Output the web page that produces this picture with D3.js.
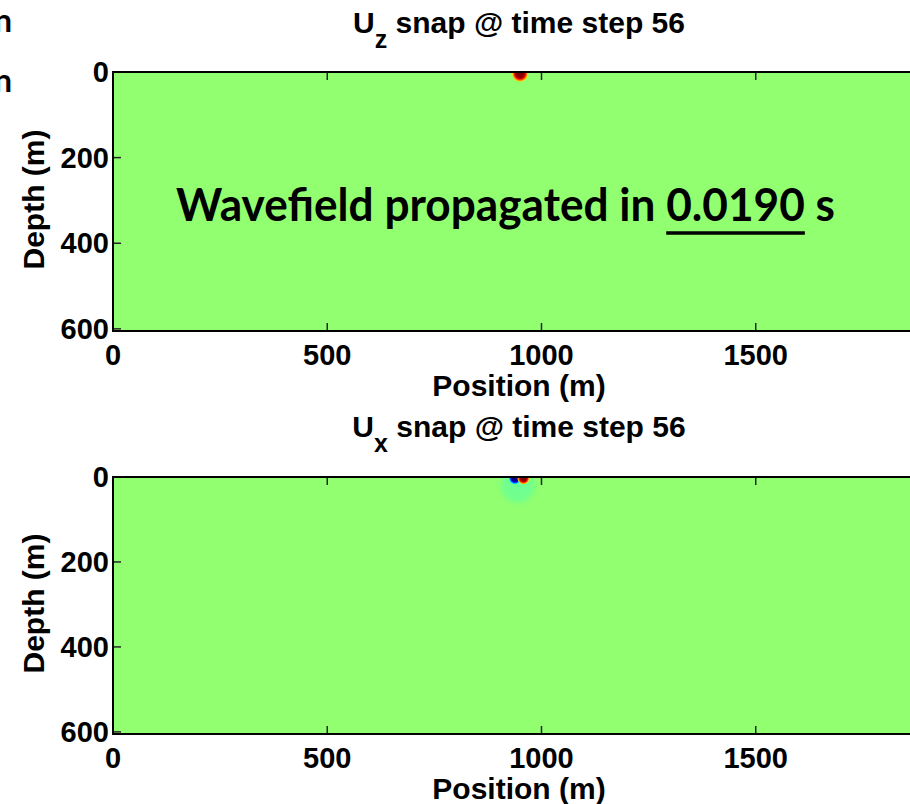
<!DOCTYPE html>
<html>
<head>
<meta charset="utf-8">
<script src="https://cdn.jsdelivr.net/npm/d3@7"></script>
<style>
	body { margin: 0; background: #ffffff; }
	svg { display: block; }
	.snap-label { font-family: 'Liberation Sans', Arial, sans-serif; font-weight: bold; fill: #000; }
	.snap-note { font-family: Lato, 'Open Sans', sans-serif; font-weight: bold; fill: #000; white-space: pre; }
</style>
</head>
<body>
<svg id="chart" width="910" height="804"></svg>
<script>

// model extent (m)
var aPositionDomain = [0, 1895];
var aDepthDomain = [0, 605];
var aPositionTicks = [0, 500, 1000, 1500];
var aDepthTicks = [0, 200, 400, 600];

var aPanelComponents = ['z', 'x'];
var nTimeStep = 56;
var strPropTime = '0.0190';

// wavefield blobs per panel: position (m), depth (m), radius (m), amplitude (-1..1)
var aUzBlobs = [
	{ pos: 950, depth: 4, radius: 20, amp: 1.0 }
];
var aUxBlobs = [
	{ pos: 945, depth: 20, radius: 55, amp: -0.04 },
	{ pos: 938, depth: 3, radius: 15, amp: -1.0 },
	{ pos: 958, depth: 3, radius: 15, amp: 1.0 }
];

const strBgColor = '#91ff6f';

function Jet(t)
{
	function c(v) { return Math.max(0, Math.min(1, v)); }
	var r = c(1.5 - Math.abs(4 * t - 3));
	var g = c(1.5 - Math.abs(4 * t - 2));
	var b = c(1.5 - Math.abs(4 * t - 1));
	return d3.rgb(r * 255, g * 255, b * 255).formatHex();
}

var sSvg = d3.select('#chart');
var sDefs = sSvg.append('defs');

var aPanels = [
	{ comp: aPanelComponents[0], top: 72, bottom: 331, titleY: 33, blobs: aUzBlobs },
	{ comp: aPanelComponents[1], top: 477, bottom: 734, titleY: 437, blobs: aUxBlobs }
];

var xScale = d3.scaleLinear().domain(aPositionDomain).range([113, 925]);

aPanels.forEach(function(panel, iPanel)
{
	var yScale = d3.scaleLinear().domain(aDepthDomain).range([panel.top, panel.bottom]);
	var fPxPerM = (panel.bottom - panel.top) / (aDepthDomain[1] - aDepthDomain[0]);
	var x0 = xScale.range()[0], x1 = xScale.range()[1];

	var strClip = 'clip-' + iPanel;
	sDefs.append('clipPath').attr('id', strClip)
		.append('rect')
			.attr('x', x0).attr('y', panel.top)
			.attr('width', x1 - x0).attr('height', panel.bottom - panel.top);

	var sPanel = sSvg.append('g');

	sPanel.append('rect')
		.attr('x', x0).attr('y', panel.top)
		.attr('width', x1 - x0).attr('height', panel.bottom - panel.top)
		.attr('fill', strBgColor);

	// blobs, jet coloured radial gradients
	var sBlobs = sPanel.append('g').attr('clip-path', 'url(#' + strClip + ')');
	panel.blobs.forEach(function(blob, iBlob)
	{
		var strGrad = 'grad-' + iPanel + '-' + iBlob;
		var tPeak = (blob.amp + 1) / 2;
		var tBg = 0.5175;
		var grad = sDefs.append('radialGradient').attr('id', strGrad);
		var aStops = Math.abs(blob.amp) > 0.5
			? [[0, 1], [0.45, 0.97], [0.6, 0.8], [0.75, 0.55], [0.88, 0.3], [1, 0]]
			: [[0, 1], [0.6, 0.8], [1, 0]];
		aStops.forEach(function(s)
		{
			var t = tBg + (tPeak - tBg) * s[1];
			grad.append('stop').attr('offset', s[0]).attr('stop-color', Jet(t))
				.attr('stop-opacity', s[0] == 1 ? 0 : 1);
		});
		sBlobs.append('circle')
			.attr('cx', xScale(blob.pos))
			.attr('cy', yScale(blob.depth))
			.attr('r', blob.radius * fPxPerM)
			.attr('fill', 'url(#' + strGrad + ')');
	});

	// inward ticks, matlab style
	var sTicks = sPanel.append('g').attr('stroke', '#262626').attr('stroke-width', 1.5);
	aPositionTicks.forEach(function(v)
	{
		var x = xScale(v);
		sTicks.append('line').attr('x1', x).attr('x2', x).attr('y1', panel.top).attr('y2', panel.top + 8);
		sTicks.append('line').attr('x1', x).attr('x2', x).attr('y1', panel.bottom).attr('y2', panel.bottom - 8);
	});
	aDepthTicks.forEach(function(v)
	{
		var y = yScale(v);
		sTicks.append('line').attr('x1', x0).attr('x2', x0 + 8).attr('y1', y).attr('y2', y);
		sTicks.append('line').attr('x1', x1).attr('x2', x1 - 8).attr('y1', y).attr('y2', y);
	});

	sPanel.append('rect')
		.attr('x', x0).attr('y', panel.top)
		.attr('width', x1 - x0).attr('height', panel.bottom - panel.top)
		.attr('fill', 'none').attr('stroke', '#000').attr('stroke-width', 2);

	// tick labels
	sPanel.selectAll('.xtick')
		.data(aPositionTicks)
		.enter()
			.append('text')
				.attr('class', 'snap-label')
				.attr('x', function(v) { return xScale(v); })
				.attr('y', panel.bottom + 34)
				.attr('text-anchor', 'middle')
				.style('font-size', '29px')
				.text(function(v) { return v; });

	sPanel.selectAll('.ytick')
		.data(aDepthTicks)
		.enter()
			.append('text')
				.attr('class', 'snap-label')
				.attr('x', x0 - 4)
				.attr('y', function(v) { return yScale(v) + 10; })
				.attr('text-anchor', 'end')
				.style('font-size', '29px')
				.text(function(v) { return v; });

	sPanel.append('text')
		.attr('class', 'snap-label')
		.attr('x', (x0 + x1) / 2)
		.attr('y', panel.bottom + 65)
		.attr('text-anchor', 'middle')
		.style('font-size', '30px')
		.text('Position (m)');

	sPanel.append('text')
		.attr('class', 'snap-label')
		.attr('transform', 'translate(' + 44 + ',' + ((panel.top + panel.bottom) / 2 - 2) + ') rotate(-90)')
		.attr('text-anchor', 'middle')
		.style('font-size', '30px')
		.text('Depth (m)');

	// title with subscript
	var sTitle = sPanel.append('text')
		.attr('class', 'snap-label')
		.attr('x', (x0 + x1) / 2)
		.attr('y', panel.titleY)
		.attr('text-anchor', 'middle')
		.style('font-size', '30px');
	sTitle.append('tspan').text('U');
	sTitle.append('tspan').attr('dy', 15).style('font-size', '25px').text(panel.comp);
	sTitle.append('tspan').attr('dy', -15).text(' snap @ time step ' + nTimeStep);
});

// overlay note on the top panel
var aNoteParts = ['Wavefield propagated in\u00a0', strPropTime, '\u00a0s'];
var fNoteLeft = 176, fNoteRight = 835, fNoteBase = 221;
var sNote = sSvg.append('g');
var aNoteTexts = aNoteParts.map(function(s)
{
	return sNote.append('text').attr('class', 'snap-note').style('font-size', '45px').attr('y', fNoteBase).text(s);
});
var aWidths = aNoteTexts.map(function(t) { return t.node().getComputedTextLength(); });
var fTotal = d3.sum(aWidths);
var fScale = (fNoteRight - fNoteLeft) / fTotal;
var fx = fNoteLeft;
aNoteTexts.forEach(function(t, i)
{
	t.attr('x', fx).attr('textLength', aWidths[i] * fScale).attr('lengthAdjust', 'spacingAndGlyphs');
	if (i == 1)
	{
		sNote.append('line')
			.attr('x1', fx).attr('x2', fx + aWidths[i] * fScale)
			.attr('y1', fNoteBase + 12).attr('y2', fNoteBase + 12)
			.attr('stroke', '#000').attr('stroke-width', 3.5);
	}
	fx += aWidths[i] * fScale;
});

// slide text cut off at the left edge
[32, 92].forEach(function(y)
{
	sSvg.append('text').attr('class', 'snap-note')
		.attr('x', 12).attr('y', y)
		.attr('text-anchor', 'end')
		.style('font-size', '32px')
		.text('n');
});

</script>
</body>
</html>
